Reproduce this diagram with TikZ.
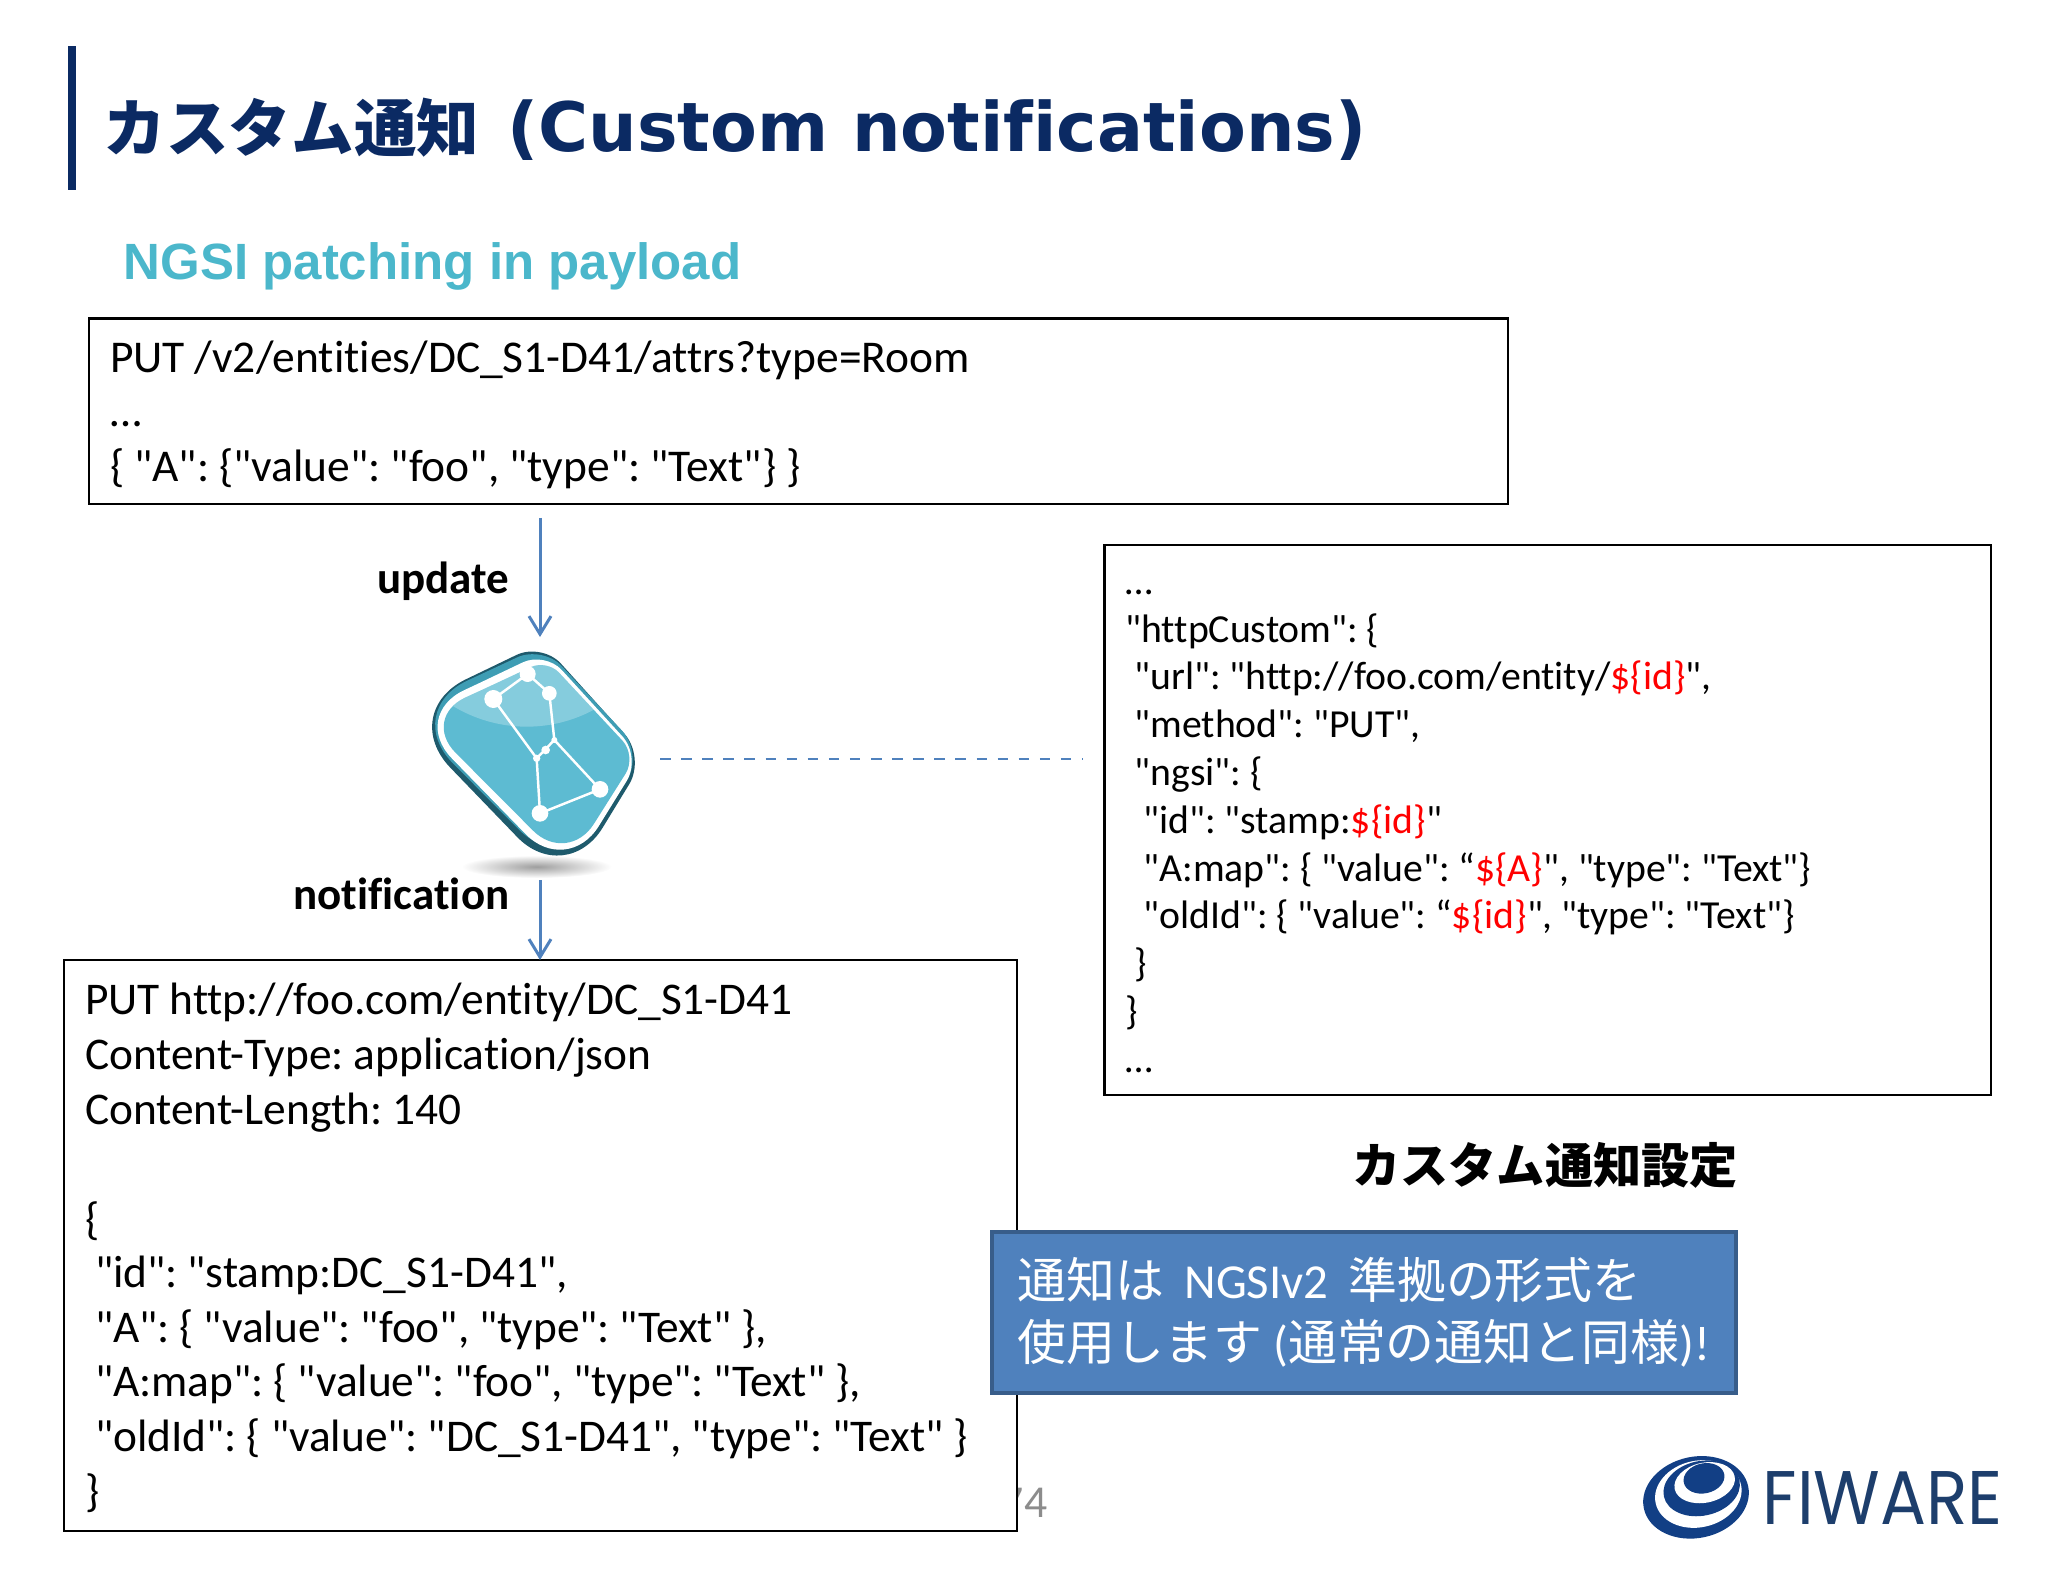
\documentclass[tikz,border=0pt]{standalone}
\usepackage{fontspec}
\setmainfont{Carlito}[Ligatures={TeXOff,NoCommon}]
\newfontfamily\cjk{Noto Sans CJK JP}
\newfontfamily\arialfont{Liberation Sans}
\newfontfamily\titlefont{DejaVu Sans}[Ligatures=NoCommon]
\newfontfamily\logofont{Poppins}
\usetikzlibrary{arrows.meta}
\definecolor{navy}{HTML}{0B2A63}
\definecolor{tealtext}{HTML}{4BB7CB}
\definecolor{flow}{HTML}{4F81BD}
\definecolor{flowedge}{HTML}{385D8A}
\definecolor{slabdark}{HTML}{1E5A6C}
\definecolor{slabmid}{HTML}{3E9DB4}
\definecolor{slabface}{HTML}{5DBBD2}
\definecolor{logoblue}{HTML}{123F85}
\definecolor{logotext}{HTML}{1D3E6C}
\tikzset{
  codebox/.style={draw=black, fill=white, line width=0.6pt, anchor=north west, align=left,
    inner xsep=0.21cm, inner ysep=0pt, outer sep=0pt,
    execute at begin node={\spaceskip=0.22em\relax}},
  flowline/.style={draw=flow, line width=0.85pt, -{Straight Barb[length=0.18cm,width=0.22cm]}},
  flowlabel/.style={anchor=east, inner sep=0pt, font=\fontsize{12.8}{15}\selectfont\bfseries},
  star/.style={fill=white, draw=none},
}
\newcommand{\idvar}{\textcolor{red}{\$\{id\}}}
\newcommand{\slabpath}[4]{(270,532) [rounded corners=#1pt] -- (486,428) [rounded corners=#2pt] -- (797,772) [rounded corners=#3pt] -- (558,1163) [rounded corners=#4pt] -- (50,636) [sharp corners] -- cycle}
\begin{document}
\frenchspacing
\begin{tikzpicture}[x=0.01cm, y=-0.01cm]
    \useasboundingbox (0,0) rectangle (2048,1573);
    \fill[navy] (68,46) rectangle (76,190);
    \node[anchor=west, inner sep=0pt, text=navy] (heading) at (103,129)
        {\fontsize{17.8}{21}\selectfont\cjk\bfseries カスタム通知\hspace{8pt}\fontsize{19.4}{21}\selectfont\titlefont\bfseries (Custom notifications)};
    \node[anchor=west, inner sep=0pt, text=tealtext] (subheading) at (123,266)
        {\fontsize{14.5}{18}\selectfont\arialfont\bfseries NGSI patching in payload};

    \node[text=black!45, inner sep=0pt, font=\fontsize{13}{15}\selectfont] (pagenum) at (1024,1503) {74};

    \node[codebox, minimum width=14.18cm, minimum height=1.855cm, text width=13.76cm,
        font=\fontsize{12.93}{15.5}\selectfont] (request) at (89,318.5)
        {\rule{0pt}{11pt}PUT /v2/entities/DC\_S1-D41/attrs?type=Room\\
         …\\
         \{ "A": \{"value": "foo", "type": "Text"\} \}};

    \node[codebox, minimum width=8.86cm, minimum height=5.5cm, text width=8.44cm,
        font=\fontsize{11.3}{13.6}\selectfont] (config) at (1104.5,544.6)
        {\rule{0pt}{7.8pt}…\\
         "httpCustom": \{\\
         \hspace{0.09cm}"url": "http://foo.com/entity/\idvar",\\
         \hspace{0.09cm}"method": "PUT",\\
         \hspace{0.09cm}"ngsi": \{\\
         \hspace{0.18cm}"id": "stamp:\idvar"\\
         \hspace{0.18cm}"A:map": \{ "value": “\textcolor{red}{\$\{A\}}", "type": "Text"\}\\
         \hspace{0.18cm}"oldId": \{ "value": “\idvar", "type": "Text"\}\\
         \hspace{0.09cm}\}\\
         \}\\
         …};

    \node[codebox, minimum width=9.52cm, minimum height=5.705cm, text width=9.1cm,
        font=\fontsize{12.9}{15.6}\selectfont] (payload) at (64,960)
        {\rule{0pt}{10.5pt}PUT http://foo.com/entity/DC\_S1-D41\\
         Content-Type: application/json\\
         Content-Length: 140\\[15.6pt]
         \{\\[-0.6pt]
         \hspace{0.1cm}"id": "stamp:DC\_S1-D41",\\
         \hspace{0.1cm}"A": \{ "value": "foo", "type": "Text" \},\\
         \hspace{0.1cm}"A:map": \{ "value": "foo", "type": "Text" \},\\
         \hspace{0.1cm}"oldId": \{ "value": "DC\_S1-D41", "type": "Text" \}\\
         \}};

    \node[inner sep=0pt, font=\fontsize{13.7}{16}\selectfont\cjk\bfseries] (configlabel) at (1545,1165) {カスタム通知設定};

    \node[draw=flowedge, fill=flow, line width=1pt, text=white, anchor=north west, align=left,
        minimum width=7.44cm, minimum height=1.61cm, inner xsep=0.18cm, inner ysep=0pt,
        font=\fontsize{13.9}{17.5}\selectfont] (note) at (990,1230)
        {{\cjk 通知は}\hspace{2.5pt} NGSIv2 \hspace{2.5pt}{\cjk 準拠の形式を}\\
         {\cjk 使用します} ({\cjk 通常の通知と同様})!};

    \begin{scope}[shift={(380,500)}, scale=1/3]
        \shade[inner color=black!38, outer color=white] (470,1100) ellipse [x radius=225, y radius=34];
        \fill[slabdark] \slabpath{8}{9}{20}{22};
        \fill[slabmid, shift={(463.5,755)}, xscale=0.975, yscale=0.945, shift={(-461,-765)}] \slabpath{8}{9}{19}{21};
        \fill[white, shift={(472,765)}, xscale=0.929, yscale=0.919, shift={(-461,-765)}] \slabpath{7}{8}{17}{17};
        \fill[slabface, shift={(479,762)}, xscale=0.867, yscale=0.84, shift={(-461,-765)}] \slabpath{5}{6}{14}{14};
        \begin{scope}
            \clip[shift={(479,762)}, xscale=0.867, yscale=0.84, shift={(-461,-765)}] \slabpath{5}{6}{14}{14};
            \fill[white, opacity=0.25] (440,200) ellipse [x radius=450, y radius=480];
        \end{scope}
        \draw[white, line width=0.7pt, line join=round] (340,597) -- (443,522) -- (508,580) -- (523,720) -- (660,868)
            -- (480,940) -- (470,775) -- cycle (470,775) -- (523,720);
        \foreach \sx/\sy/\sr in {340/597/27, 443/522/24, 508/580/22, 523/720/9, 497/750/13, 470/775/11, 480/940/25, 660/868/25}
            \fill[star] (\sx,\sy) circle (\sr);
    \end{scope}

    \coordinate (updatestart) at (540,518);
    \coordinate (brokertop) at (540,637);
    \coordinate (notifystart) at (540,880);
    \coordinate (brokerright) at (660,759);
    \coordinate (dashend) at (1083,759);
    \draw[flowline] (updatestart) -- (brokertop);
    \draw[flowline] (notifystart) -- (notifystart |- payload.north);
    \draw[draw=flow, line width=0.5pt, dashed] (brokerright) -- (dashend);
    \node[flowlabel] (updatelabel) at (510,581) {update};
    \node[flowlabel] (notifylabel) at (510,894) {notification};

    \begin{scope}[shift={(1620,1420)}, scale=1/3]
        \fill[logoblue, rotate around={12:(228,232)}] (228,232) ellipse [x radius=160, y radius=122];
        \fill[white, rotate around={12:(235,222)}] (235,222) ellipse [x radius=131, y radius=100];
        \fill[logoblue, rotate around={12:(245,205)}] (245,205) ellipse [x radius=116, y radius=82];
        \fill[white, rotate around={12:(254,188)}] (254,188) ellipse [x radius=92, y radius=60];
        \fill[logoblue, rotate around={12:(252,175)}] (252,175) ellipse [x radius=62, y radius=45];
    \end{scope}
    \node[anchor=west, inner sep=0pt, text=logotext] (logoword) at (1762,1498)
        {\resizebox{2.4cm}{0.53cm}{\logofont FIWARE}};
\end{tikzpicture}
\end{document}
